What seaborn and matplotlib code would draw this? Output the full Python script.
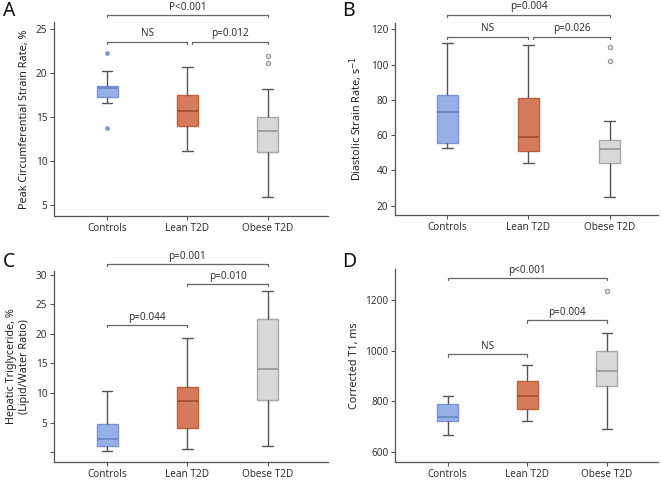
import numpy as np
import pandas as pd
import matplotlib
matplotlib.use("Agg")
import matplotlib.pyplot as plt
import seaborn as sns

GROUPS = ["Controls", "Lean T2D", "Obese T2D"]

# box summaries per group: [whisker low, Q1, median, Q3, whisker high]
A_STATS = [[16.6, 17.27, 18.26, 18.56, 20.23],
           [11.14, 13.94, 15.72, 17.54, 20.72],
           [5.87, 10.98, 13.45, 15.04, 18.22]]
A_OUT_GROUP = ["Controls", "Controls", "Obese T2D", "Obese T2D"]
A_OUT_VAL = [22.27, 13.71, 21.97, 21.17]

B_STATS = [[52.5, 55.5, 72.9, 82.8, 112.1],
           [44.0, 51.0, 58.8, 81.2, 111.3],
           [24.9, 44.0, 52.0, 57.2, 67.8]]
B_OUT_GROUP = ["Obese T2D", "Obese T2D"]
B_OUT_VAL = [110.0, 101.9]

C_STATS = [[0.11, 0.96, 2.2, 4.75, 10.4],
           [0.51, 4.07, 8.64, 11.02, 19.27],
           [1.07, 8.76, 14.0, 22.49, 27.29]]
C_OUT_GROUP = []
C_OUT_VAL = []

D_STATS = [[666, 724, 740, 789, 822],
           [722, 772, 823, 880, 946],
           [693, 860, 920, 1000, 1070]]
D_OUT_GROUP = ["Obese T2D"]
D_OUT_VAL = [1238]

# brackets: (from group idx, to group idx, y value, label)
A_BRACKETS = [(0, 2, 26.6, "P<0.001"), (0, 1, 23.56, "NS"), (1, 2, 23.56, "p=0.012")]
B_BRACKETS = [(0, 2, 128.3, "p=0.004"), (0, 1, 115.8, "NS"), (1, 2, 115.8, "p=0.026")]
C_BRACKETS = [(0, 2, 31.86, "p=0.001"), (1, 2, 28.47, "p=0.010"), (0, 1, 21.53, "p=0.044")]
D_BRACKETS = [(0, 2, 1288, "p<0.001"), (1, 2, 1121, "p=0.004"), (0, 1, 986, "NS")]

FILL = ["#97b0e8", "#d57a5b", "#d8d8d8"]
EDGE = ["#7a95da", "#bd5f3f", "#a9a9a9"]
MEDIAN = ["#6c86cc", "#a9502f", "#9a9a9a"]
WHISK = "#555555"
TXT = "#333333"

sns.set_style("white")
plt.rcParams["font.family"] = ["Noto Sans", "DejaVu Sans"]


def draw_panel(ax, stats, out_g, out_v, brackets, ylabel, ylim, xlim, yticks, yticklabels, span):
    df = pd.DataFrame({
        "group": np.repeat(GROUPS, 5),
        "value": np.concatenate(stats),
    })
    for i, g in enumerate(GROUPS):
        sns.boxplot(
            data=df[df["group"] == g], x="group", y="value", order=GROUPS,
            width=0.26, whis=np.inf, showfliers=False, ax=ax,
            color=FILL[i], linewidth=1.0,
            boxprops=dict(facecolor=FILL[i], edgecolor=EDGE[i]),
            medianprops=dict(color=MEDIAN[i], linewidth=1.3),
            whiskerprops=dict(color=WHISK, linewidth=1.0),
            capprops=dict(color=WHISK, linewidth=1.0),
        )
    if out_g:
        odf = pd.DataFrame({"group": out_g, "value": out_v})
        sub = odf[odf["group"] == "Controls"]
        if len(sub):
            sns.scatterplot(data=sub, x="group", y="value", ax=ax, s=10,
                            color="#7f98d8", edgecolor="#7f98d8", zorder=5)
        sub = odf[odf["group"] == "Obese T2D"]
        if len(sub):
            sns.scatterplot(data=sub, x="group", y="value", ax=ax, s=10,
                            facecolor="#e0e0e0", edgecolor="#999999",
                            linewidth=0.8, zorder=5)

    ax.set_xlim(*xlim)
    ax.set_ylim(*ylim)
    ax.set_yticks(yticks)
    ax.set_yticklabels(yticklabels)
    ax.set_xlabel("")
    ax.set_ylabel(ylabel, fontsize=7.8, color="#222222")
    sns.despine(ax=ax)
    for s in ["left", "bottom"]:
        ax.spines[s].set_color("#555555")
        ax.spines[s].set_linewidth(0.9)
    ax.tick_params(axis="both", which="both", length=3, width=0.8,
                   color="#555555", labelsize=7.2, labelcolor=TXT, pad=2, left=True, bottom=True)

    tick = span * 0.012
    for a, b, y, lab in brackets:
        xa, xb = a, b
        # leave a small gap where two brackets meet at the same height
        same = [br for br in brackets if br[2] == y]
        if len(same) > 1 and a == 1:
            xa = a + 0.06
        ax.plot([xa, xa, xb, xb], [y - tick, y, y, y - tick], color="#666666",
                lw=0.9, clip_on=False)
        ax.text((xa + xb) / 2, y + span * 0.012, lab, ha="center", va="bottom",
                fontsize=7.2, color=TXT, clip_on=False)


fig = plt.figure(figsize=(6.61, 4.8), dpi=100)
axA = fig.add_axes([0.082, 0.55, 0.414, 0.404])
axB = fig.add_axes([0.598, 0.552, 0.398, 0.401])
axC = fig.add_axes([0.082, 0.038, 0.414, 0.398])
axD = fig.add_axes([0.598, 0.038, 0.398, 0.402])

draw_panel(axA, A_STATS, A_OUT_GROUP, A_OUT_VAL, A_BRACKETS,
           "Peak Circumferential Strain Rate, %", (3.75, 25.8), (-0.66, 2.75),
           [5, 10, 15, 20, 25], ["5", "10", "15", "20", "25"], 22)
draw_panel(axB, B_STATS, B_OUT_GROUP, B_OUT_VAL, B_BRACKETS,
           "Diastolic Strain Rate, s$^{-1}$", (14.7, 123.8), (-0.64, 2.6),
           [20, 40, 60, 80, 100, 120], ["20", "40", "60", "80", "100", "120"], 109)
draw_panel(axC, C_STATS, C_OUT_GROUP, C_OUT_VAL, C_BRACKETS,
           "Hepatic Triglyceride, %\n(Lipid/Water Ratio)", (-1.64, 30.7), (-0.66, 2.75),
           [0, 5, 10, 15, 20, 25, 30], ["", "5", "10", "15", "20", "25", "30"], 32)
draw_panel(axD, D_STATS, D_OUT_GROUP, D_OUT_VAL, D_BRACKETS,
           "Corrected T1, ms", (562, 1324), (-0.66, 2.65),
           [600, 800, 1000, 1200], ["600", "800", "1000", "1200"], 760)

for lab, x, y in [("A", 0.004, 0.998), ("B", 0.518, 0.998), ("C", 0.004, 0.476), ("D", 0.518, 0.476)]:
    fig.text(x, y, lab, fontsize=14, ha="left", va="top", color="#111111")

fig.savefig("out.png", dpi=100)
